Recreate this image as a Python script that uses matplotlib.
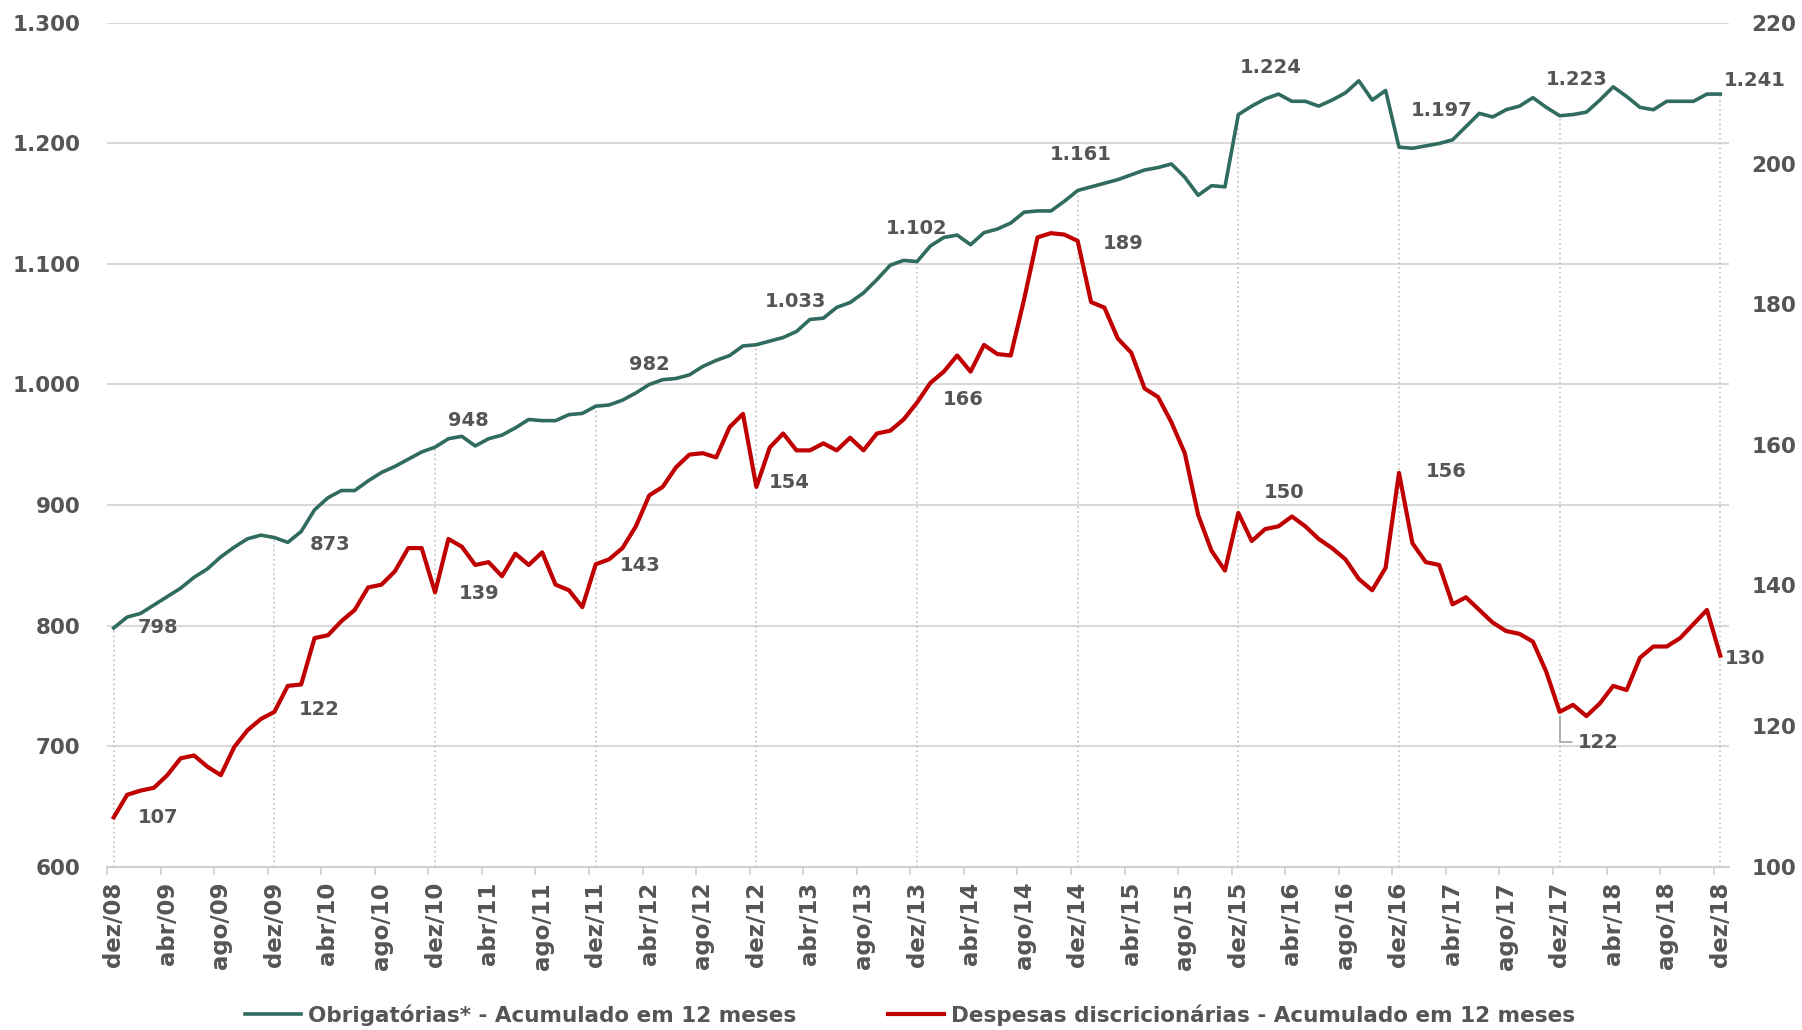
import numpy as np
import matplotlib
matplotlib.use("Agg")
from matplotlib import pyplot as plt
from matplotlib.ticker import FuncFormatter

# meses de dez/08 a dez/18
meses = ["jan", "fev", "mar", "abr", "mai", "jun", "jul", "ago", "set", "out", "nov", "dez"]
datas = [f"{meses[(11 + i) % 12]}/{8 + (11 + i) // 12:02d}" for i in range(121)]

# Obrigatorias - acumulado em 12 meses (R$ bi, eixo esquerdo)
obrigatorias = [
    798, 807, 810, 817, 824, 831, 840, 847, 857, 865, 872, 875,
    873, 869, 878, 896, 906, 912, 912, 920, 927, 932, 938, 944,
    948, 955, 957, 949, 955, 958, 964, 971, 970, 970, 975, 976,
    982, 983, 987, 993, 1000, 1004, 1005, 1008, 1015, 1020, 1024, 1032,
    1033, 1036, 1039, 1044, 1054, 1055, 1064, 1068, 1076, 1087, 1099, 1103,
    1102, 1115, 1122, 1124, 1116, 1126, 1129, 1134, 1143, 1144, 1144, 1152,
    1161, 1164, 1167, 1170, 1174, 1178, 1180, 1183, 1172, 1157, 1165, 1164,
    1224, 1231, 1237, 1241, 1235, 1235, 1231, 1236, 1242, 1252, 1236, 1244,
    1197, 1196, 1198, 1200, 1203, 1214, 1225, 1222, 1228, 1231, 1238, 1230,
    1223, 1224, 1226, 1236, 1247, 1239, 1230, 1228, 1235, 1235, 1235, 1241,
    1241,
]

# Despesas discricionarias - acumulado em 12 meses (R$ bi, eixo direito)
discricionarias = [
    107, 110.2, 110.8, 111.2, 113, 115.4, 115.8, 114.2, 113, 117, 119.4, 121,
    122, 125.7, 125.9, 132.5, 132.9, 134.9, 136.5, 139.7, 140.1, 142, 145.3, 145.3,
    139, 146.6, 145.5, 142.9, 143.3, 141.3, 144.5, 142.9, 144.7, 140.1, 139.3, 136.9,
    143, 143.7, 145.3, 148.4, 152.8, 154, 156.8, 158.6, 158.8, 158.2, 162.5, 164.4,
    154, 159.6, 161.6, 159.2, 159.2, 160.2, 159.2, 161, 159.2, 161.6, 162, 163.6,
    166, 168.8, 170.4, 172.7, 170.4, 174.2, 172.9, 172.7, 180.7, 189.5, 190.1, 189.9,
    189, 180.3, 179.5, 175.1, 173.1, 168, 166.8, 163.2, 158.8, 150, 144.9, 142.1,
    150.3, 146.3, 148, 148.4, 149.8, 148.4, 146.6, 145.3, 143.7, 140.9, 139.3, 142.5,
    156, 146, 143.3, 142.9, 137.3, 138.3, 136.5, 134.7, 133.5, 133.1, 132, 127.7,
    122, 123, 121.4, 123.2, 125.7, 125.1, 129.7, 131.3, 131.3, 132.5, 134.5, 136.5,
    130,
]

nome_obrig = "Obrigatórias* - Acumulado em 12 meses"
nome_discr = "Despesas discricionárias - Acumulado em 12 meses"

cinza = "#555555"
verde = "#2F6B5E"
vermelho = "#C00000"


def milhar(v, pos=None):
    return f"{v:,.0f}".replace(",", ".")


fig = plt.figure(figsize=(18.02, 10.30), dpi=100)
ax = fig.add_axes([0.0594, 0.1587, 0.9001, 0.819])
ax2 = ax.twinx()

x = np.arange(len(datas))
obrig = np.array(obrigatorias)
discr = np.array(discricionarias)

l1, = ax.plot(x, obrig, color=verde, lw=2.6, zorder=3)
l2, = ax2.plot(x, discr, color=vermelho, lw=3.0, zorder=3)

# linhas verticais pontilhadas em dezembro
ax.vlines(x[::12], 600, obrig[::12], colors="#C8C8C8", linestyles=":", lw=1.3, zorder=1)

ax.set_xlim(-0.45, 120.65)
ax.set_ylim(600, 1300)
ax2.set_ylim(100, 220)
ax.set_yticks(range(600, 1301, 100))
ax2.set_yticks(range(100, 221, 20))
ax.yaxis.set_major_formatter(FuncFormatter(milhar))

ax.grid(axis="y", color="#D9D9D9", lw=1.5)
ax.set_axisbelow(True)

for a in (ax, ax2):
    for s in ("top", "left", "right"):
        a.spines[s].set_visible(False)
ax2.spines["bottom"].set_visible(False)
ax.spines["bottom"].set_color("#D0D0D0")
ax.spines["bottom"].set_linewidth(1.5)

ax.set_xticks(x[::4])
ax.set_xticklabels(datas[::4], rotation=90)
ax.set_xticks(x[::4] - 0.5, minor=True)
ax.tick_params(axis="x", which="major", length=0, pad=11, labelsize=16.5, labelcolor=cinza)
ax.tick_params(axis="x", which="minor", length=6, color="#D0D0D0", width=1.2)
ax.tick_params(axis="y", length=0, pad=19, labelsize=15.5, labelcolor=cinza)
ax2.tick_params(axis="y", length=0, pad=16, labelsize=15.5, labelcolor=cinza)
for lab in ax.get_xticklabels() + ax.get_yticklabels() + ax2.get_yticklabels():
    lab.set_fontweight("bold")

# rotulos de dados (indice: deslocamento em pontos)
rot_obrig = {0: (32, 0), 12: (40, -5), 24: (24, 19), 36: (39, 30), 48: (28, 31),
             60: (0, 24), 72: (2, 26), 84: (23, 34), 96: (31, 26), 108: (12, 26),
             120: (25, 10)}
rot_discr = {0: (32, 0), 12: (32, 2), 24: (32, -1), 36: (32, -1), 48: (24, 3),
             60: (33, 2), 72: (33, -2), 84: (33, 15), 96: (34, 1), 120: (18, -2)}

estilo = dict(textcoords="offset points", ha="center", va="center",
              fontsize=14, fontweight="bold", color=cinza, zorder=5)
for i, (dx, dy) in rot_obrig.items():
    ax.annotate(milhar(obrig[i]), (x[i], obrig[i]), xytext=(dx, dy), **estilo)
for i, (dx, dy) in rot_discr.items():
    ax2.annotate(milhar(discr[i]), (x[i], discr[i]), xytext=(dx, dy), **estilo)

# minimo de dez/17 com linha guia
ax2.annotate(milhar(discr[108]), (x[108], discr[108]), xytext=(13, -22),
             textcoords="offset points", ha="left", va="center", fontsize=14,
             fontweight="bold", color=cinza, zorder=5,
             arrowprops=dict(arrowstyle="-", color="#A6A6A6", lw=1.2,
                             connectionstyle="angle,angleA=0,angleB=90",
                             relpos=(0, 0.5), shrinkA=2, shrinkB=3))

fig.legend([l1, l2], [nome_obrig, nome_discr], loc="center",
           bbox_to_anchor=(0.505, 0.0146), ncol=2, frameon=False,
           prop={"size": 15.5, "weight": "bold"}, labelcolor=cinza,
           handlelength=2.6, handletextpad=0.3, columnspacing=4.3)

fig.savefig("out.png", dpi=100)
